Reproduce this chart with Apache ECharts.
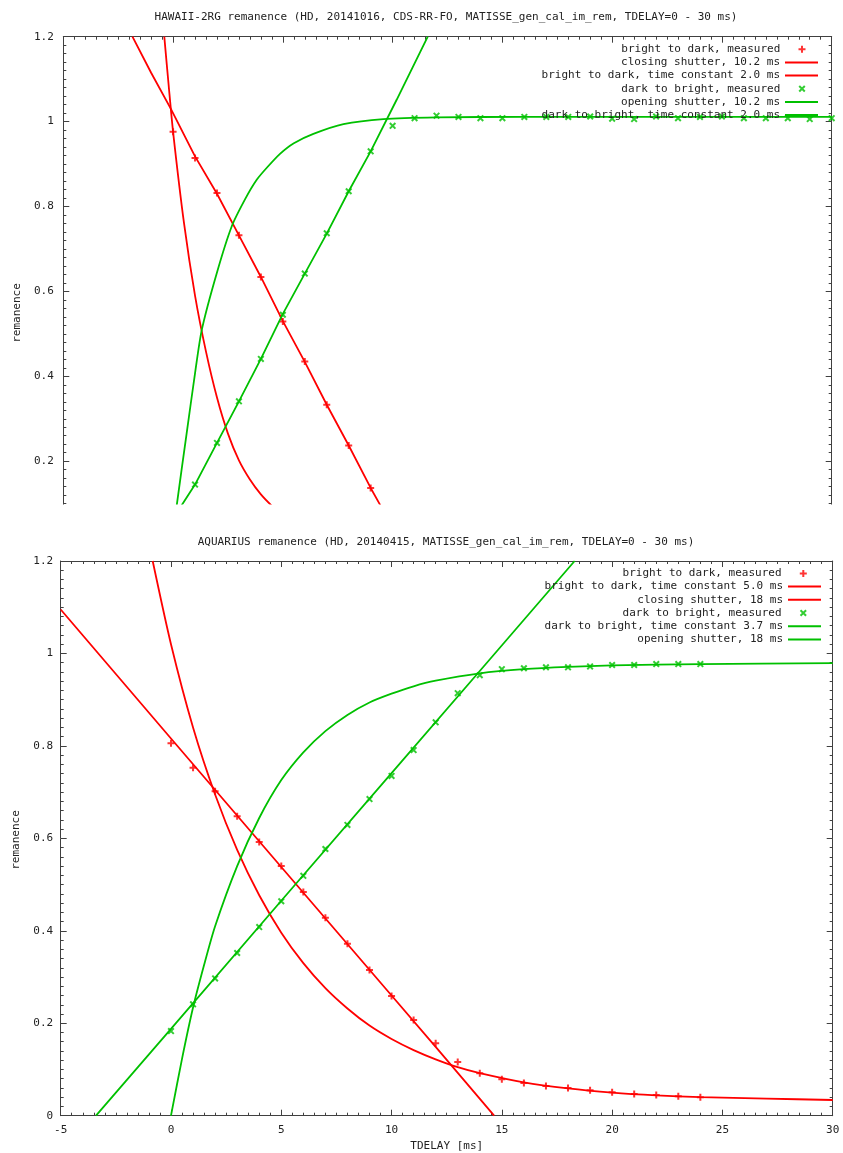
<!DOCTYPE html>
<html><head><meta charset="utf-8">
<script src="https://cdn.jsdelivr.net/npm/echarts@6/dist/echarts.min.js"></script>
<style>html,body{margin:0;padding:0;background:#fff}#c{width:843px;height:1153px}</style>
</head><body><div id="c"></div>
<script>
// ---------- text ----------
const titleTop = 'HAWAII-2RG remanence (HD, 20141016, CDS-RR-FO, MATISSE_gen_cal_im_rem, TDELAY=0 - 30 ms)';
const titleBottom = 'AQUARIUS remanence (HD, 20140415, MATISSE_gen_cal_im_rem, TDELAY=0 - 30 ms)';
const yTitle = 'remanence';
const xTitle = 'TDELAY [ms]';
const topNames = ['bright to dark, measured', 'closing shutter, 10.2 ms', 'bright to dark, time constant 2.0 ms',
                  'dark to bright, measured', 'opening shutter, 10.2 ms', 'dark to bright, time constant 2.0 ms'];
const botNames = ['bright to dark, measured', 'bright to dark, time constant 5.0 ms', 'closing shutter, 18 ms',
                  'dark to bright, measured', 'dark to bright, time constant 3.7 ms', 'opening shutter, 18 ms'];

// ---------- axis ----------
const xMin = -5, xMax = 30, xStep = 5;
const yMax = 1.2, yStep = 0.2;

// ---------- top panel (HAWAII-2RG) ----------
const topRedMeasX = [0, 1, 2, 3, 4, 5, 6, 7, 8, 9];
const topRedMeasY = [0.976, 0.914, 0.832, 0.732, 0.634, 0.529, 0.435, 0.333, 0.237, 0.137];
const topGreenMeasX = [1, 2, 3, 4, 5, 6, 7, 8, 9, 10, 11, 12, 13, 14, 15, 16, 17, 18, 19, 20, 21, 22, 23, 24, 25, 26, 27, 28, 29, 30];
const topGreenMeasY = [0.145, 0.243, 0.341, 0.441, 0.545, 0.642, 0.737, 0.836, 0.930, 0.990,
                       1.008, 1.014, 1.011, 1.008, 1.008, 1.011, 1.011, 1.011, 1.012, 1.007,
                       1.006, 1.012, 1.008, 1.011, 1.012, 1.008, 1.008, 1.008, 1.006, 1.008];
const topCloseX = [-1.85, -1, -0.1, 1, 2, 3, 4, 5, 6, 7, 8, 9, 9.43, 10.4];
const topCloseY = [1.2, 1.115, 1.03, 0.918, 0.830, 0.732, 0.634, 0.530, 0.434, 0.333, 0.237, 0.137, 0.097, 0.0];
const topDecayX = [-0.4, -0.2, 0, 0.5, 1.0, 1.5, 2.0, 2.5, 3.0, 3.5, 4.0, 4.5, 5.0, 6.0];
const topDecayY = [1.2, 1.085, 0.976, 0.76, 0.59, 0.458, 0.35, 0.265, 0.202, 0.157, 0.122, 0.095, 0.072, 0.04];
const topOpenX = [-0.8, 0.4, 1, 2, 3, 4, 5, 6, 7, 8, 9, 10.19, 11.6];
const topOpenY = [0.0, 0.097, 0.145, 0.243, 0.341, 0.441, 0.547, 0.642, 0.736, 0.836, 0.930, 1.052, 1.2];
const topRiseX = [0, 0.17, 0.62, 1.0, 1.31, 1.99, 2.67, 3.3, 3.81, 4.3, 4.87, 5.5, 6.39, 7.76, 9.58, 12, 16, 20, 25, 30];
const topRiseY = [0.015, 0.097, 0.266, 0.407, 0.51, 0.643, 0.753, 0.819, 0.863, 0.893, 0.924, 0.949, 0.971, 0.994, 1.006, 1.010, 1.011, 1.011, 1.011, 1.011];

// ---------- bottom panel (AQUARIUS) ----------
const botMeasX = [0, 1, 2, 3, 4, 5, 6, 7, 8, 9, 10, 11, 12, 13, 14, 15, 16, 17, 18, 19, 20, 21, 22, 23, 24];
const botRedMeasY = [0.806, 0.753, 0.702, 0.648, 0.592, 0.540, 0.484, 0.428, 0.372, 0.315, 0.259, 0.207, 0.157,
                     0.116, 0.092, 0.079, 0.071, 0.064, 0.060, 0.055, 0.051, 0.047, 0.045, 0.042, 0.040];
const botGreenMeasY = [0.183, 0.241, 0.297, 0.352, 0.408, 0.464, 0.519, 0.577, 0.629, 0.685, 0.735, 0.791, 0.851,
                       0.914, 0.953, 0.966, 0.968, 0.970, 0.970, 0.972, 0.975, 0.975, 0.977, 0.977, 0.977];
const botDecayX = [-0.83, 0, 1, 2, 3, 4, 5, 6, 7, 8, 9, 10, 11, 12, 13, 14, 16, 18, 20, 22, 24, 27, 30];
const botDecayY = [1.2, 1.02, 0.84, 0.695, 0.575, 0.477, 0.396, 0.33, 0.276, 0.232, 0.195, 0.166, 0.142, 0.122,
                   0.105, 0.092, 0.072, 0.059, 0.050, 0.044, 0.040, 0.037, 0.034];
const botCloseX = [-5, 0, 5, 10, 12, 14.65];
const botCloseY = [1.095, 0.816, 0.538, 0.26, 0.149, 0.0];
const botRiseX = [0, 0.5, 1, 1.5, 2, 3, 4, 5, 6, 7, 8, 9, 10, 11, 12, 14, 16, 18, 20, 24, 30];
const botRiseY = [0.0, 0.123, 0.234, 0.326, 0.41, 0.54, 0.644, 0.726, 0.786, 0.832, 0.867, 0.894, 0.913, 0.929, 0.941,
                  0.957, 0.966, 0.971, 0.974, 0.977, 0.979];
const botOpenX = [-3.4, 0, 5, 10, 14, 18.3];
const botOpenY = [0.0, 0.188, 0.465, 0.741, 0.962, 1.2];

// ---------- style ----------
const FONT = 'DejaVu Sans Mono';
const RED = '#ff0000', GREEN = '#00c000';
const AX = '#404040', TXT = '#222';
const PLUS = 'path://M0,2.5H7V4.5H0Z M2.5,0H4.5V7H2.5Z';
const CROSS = 'path://M0,1.41L1.41,0L7,5.59L5.59,7Z M5.59,0L7,1.41L1.41,7L0,5.59Z';
const zip = (xs, ys) => xs.map((x, i) => [x, ys[i]]);

function xAx(grid, pos, showLabel) {
  return {
    type: 'value', gridIndex: grid, position: pos, min: xMin, max: xMax, interval: xStep,
    axisLine: { show: true, onZero: false, lineStyle: { color: AX, width: 1 } },
    axisTick: { show: true, inside: true, length: 6, lineStyle: { color: AX } },
    minorTick: { show: true, splitNumber: 10, length: 3, lineStyle: { color: AX } },
    splitLine: { show: false }, minorSplitLine: { show: false },
    axisLabel: { show: showLabel, margin: 9, fontFamily: FONT, fontSize: 11, color: TXT }
  };
}
function yAx(grid, pos, showLabel, margin) {
  return {
    type: 'value', gridIndex: grid, position: pos, min: 0, max: yMax, interval: yStep,
    axisLine: { show: true, onZero: false, lineStyle: { color: AX, width: 1 } },
    axisTick: { show: true, inside: true, length: 6, lineStyle: { color: AX } },
    minorTick: { show: true, splitNumber: 10, length: 3, lineStyle: { color: AX } },
    splitLine: { show: false }, minorSplitLine: { show: false },
    axisLabel: { show: showLabel, margin: margin, fontFamily: FONT, fontSize: 11, color: TXT }
  };
}
function lineS(name, xi, yi, data, color, smooth) {
  return { name, type: 'line', xAxisIndex: xi, yAxisIndex: yi, data, color, showSymbol: false, symbol: 'none',
           smooth: smooth || false,
           lineStyle: { width: 1.8, color }, clip: true, animation: false };
}
function measS(name, xi, yi, data, color, sym) {
  return { name, type: 'scatter', xAxisIndex: xi, yAxisIndex: yi, data, color, symbol: sym, symbolSize: 7,
           itemStyle: { color }, clip: true, animation: false };
}
function legendItem(name, kind, centerY, rightLine, rightMeas) {
  const base = {
    data: [{ name, icon: kind === 'line' ? 'rect' : kind }],
    top: centerY - 6.5, padding: 0, itemGap: 0, selectedMode: false, align: 'right', orient: 'horizontal',
    itemStyle: { borderWidth: 0 },
    textStyle: { fontFamily: FONT, fontSize: 11, color: TXT, lineHeight: 13 }
  };
  if (kind === 'line') {
    return Object.assign(base, { right: rightLine, itemWidth: 33, itemHeight: 2 });
  }
  return Object.assign(base, { right: rightMeas, itemWidth: 7, itemHeight: 7, formatter: n => n + '  ' });
}

const topKinds = [PLUS, 'line', 'line', CROSS, 'line', 'line'];
const botKinds = [PLUS, 'line', 'line', CROSS, 'line', 'line'];
const topRows = [49.3, 62.45, 75.6, 88.75, 101.9, 115.05];
const botRows = [573.4, 586.6, 599.8, 613.0, 626.2, 639.4];
const legends = [];
topNames.forEach((n, i) => legends.push(legendItem(n, topKinds[i], topRows[i], 25, 37.5)));
botNames.forEach((n, i) => legends.push(legendItem(n, botKinds[i], botRows[i], 22, 36.2)));

const chart = echarts.init(document.getElementById('c'), null, { renderer: 'canvas' });
chart.setOption({
  animation: false,
  backgroundColor: '#fff',
  title: [
    { text: titleTop, left: 446, top: 17, textAlign: 'center', textVerticalAlign: 'middle', padding: 0, z: 100,
      textStyle: { fontFamily: FONT, fontSize: 11, fontWeight: 'normal', color: TXT } },
    { text: titleBottom, left: 446, top: 541.7, textAlign: 'center', textVerticalAlign: 'middle', padding: 0, z: 100,
      textStyle: { fontFamily: FONT, fontSize: 11, fontWeight: 'normal', color: TXT } }
  ],
  legend: legends,
  grid: [
    { left: 63.3, top: 36.7, width: 768.4, height: 509.4, containLabel: false },
    { left: 60.7, top: 561, width: 772, height: 554.7, containLabel: false }
  ],
  xAxis: [
    xAx(0, 'bottom', false), xAx(0, 'top', false),
    Object.assign(xAx(1, 'bottom', true), { name: xTitle, nameLocation: 'middle', nameGap: 25,
      nameTextStyle: { fontFamily: FONT, fontSize: 11, color: TXT } }),
    xAx(1, 'top', false)
  ],
  yAxis: [
    yAx(0, 'left', true, 9.5), yAx(0, 'right', false, 8),
    yAx(1, 'left', true, 7.5), yAx(1, 'right', false, 8)
  ],
  graphic: [
    { type: 'rect', shape: { x: 0, y: 504.5, width: 843, height: 45 }, style: { fill: '#fff' }, z: 50, silent: true },
    { type: 'text', x: 17, y: 313, rotation: Math.PI / 2, z: 60,
      style: { text: yTitle, font: '11px ' + FONT, fill: TXT, textAlign: 'center', textVerticalAlign: 'middle' } },
    { type: 'text', x: 16, y: 840, rotation: Math.PI / 2, z: 60,
      style: { text: yTitle, font: '11px ' + FONT, fill: TXT, textAlign: 'center', textVerticalAlign: 'middle' } }
  ],
  series: [
    measS(topNames[0], 0, 0, zip(topRedMeasX, topRedMeasY), RED, PLUS),
    lineS(topNames[1], 0, 0, zip(topCloseX, topCloseY), RED, false),
    lineS(topNames[2], 0, 0, zip(topDecayX, topDecayY), RED, 0.25),
    measS(topNames[3], 0, 0, zip(topGreenMeasX, topGreenMeasY), GREEN, CROSS),
    lineS(topNames[4], 0, 0, zip(topOpenX, topOpenY), GREEN, false),
    lineS(topNames[5], 0, 0, zip(topRiseX, topRiseY), GREEN, 0.25),

    measS(botNames[0], 2, 2, zip(botMeasX, botRedMeasY), RED, PLUS),
    lineS(botNames[1], 2, 2, zip(botDecayX, botDecayY), RED, 0.25),
    lineS(botNames[2], 2, 2, zip(botCloseX, botCloseY), RED, false),
    measS(botNames[3], 2, 2, zip(botMeasX, botGreenMeasY), GREEN, CROSS),
    lineS(botNames[4], 2, 2, zip(botRiseX, botRiseY), GREEN, 0.25),
    lineS(botNames[5], 2, 2, zip(botOpenX, botOpenY), GREEN, false)
  ]
});
</script>
</body></html>
